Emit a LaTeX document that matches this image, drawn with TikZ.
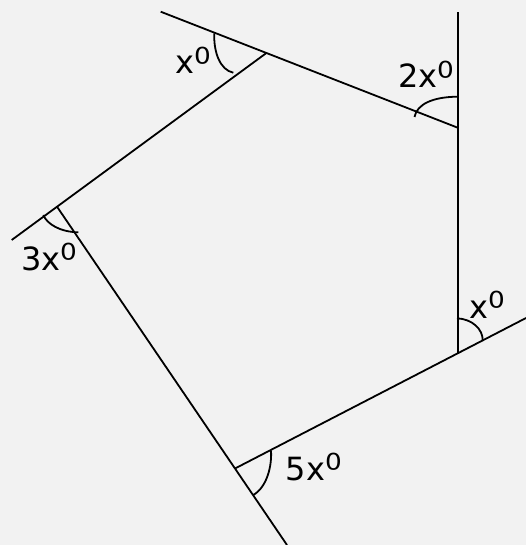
\documentclass[tikz,border=0pt]{standalone}
\usepackage{fontspec}
\usepackage{graphicx}
\setmainfont{DejaVu Sans}
\definecolor{bg}{HTML}{F2F2F2}
\newcommand{\supzero}{\raisebox{-3.8pt}{\scalebox{1.28}{⁰}}}
\tikzset{
  edge/.style={line width=1.8pt, black},
  anglearc/.style={line width=1.8pt, black},
  lbl/.style={inner sep=0pt, anchor=base west, font=\fontsize{32}{32}\selectfont}
}
\begin{document}
\begin{tikzpicture}[x=1pt,y=-1pt]
\fill[bg] (0,0) rectangle (526,545);
\useasboundingbox (0,0) rectangle (526,545);
\coordinate (A) at (266,53.3);
\coordinate (B) at (457.7,127.7);
\coordinate (C) at (457.7,353.3);
\coordinate (D) at (235,468.5);
\coordinate (P) at (160.7,11.7);
\coordinate (Q) at (457.7,12.3);
\coordinate (R) at (526,318);
\coordinate (S) at (11.7,240);
\coordinate (T) at (287,545);
\coordinate (E) at (intersection of A--S and D--T);
% lines
\draw[edge] (P) -- (B);
\draw[edge] (Q) -- (C);
\draw[edge] (R) -- (D);
\draw[edge] (A) -- (S);
\draw[edge] (E) -- (T);
% angle arcs
\draw[anglearc] (214.3,33.3) .. controls (213.5,52) and (220,70) .. (233.3,72.7);
\draw[anglearc] (414.5,117) .. controls (417,104) and (433,97) .. (457,96.7);
\draw[anglearc] (43.3,215) .. controls (47,224) and (60,232) .. (78.3,232.3);
\draw[anglearc] (457,318.3) .. controls (472,319) and (483,329) .. (482.7,340.7);
\draw[anglearc] (271,450.7) .. controls (272,466) and (267,487) .. (253.3,495);
% labels
\node[lbl] (l1) at (175.5,73.3) {x\supzero};
\node[lbl] (l2) at (398,88) {2x\supzero};
\node[lbl] (l3) at (21,270) {3x\supzero};
\node[lbl] (l4) at (469,318) {x\supzero};
\node[lbl] (l5) at (285.5,480) {5x\supzero};
\end{tikzpicture}
\end{document}
